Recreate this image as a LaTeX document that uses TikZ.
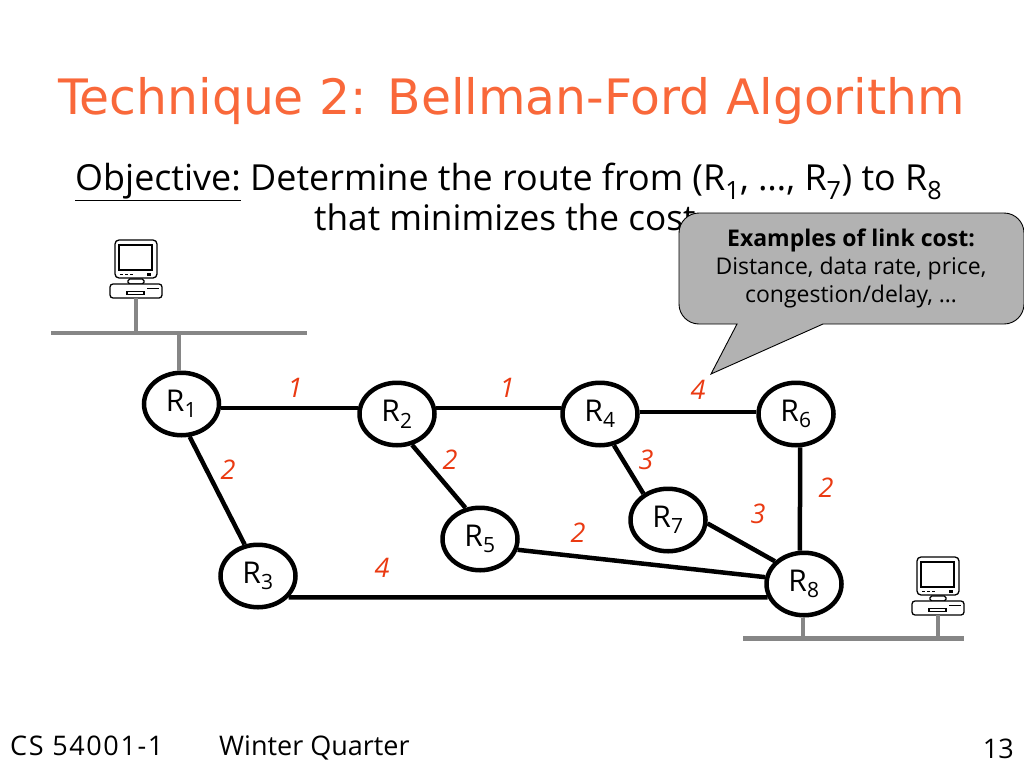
\documentclass[tikz,border=0pt]{standalone}
\usepackage{fontspec}
\usetikzlibrary{shapes.geometric}
\setmainfont{DejaVu Sans}
\newfontfamily\bodyf{Open Sans}
\definecolor{titlec}{HTML}{F9683A}
\definecolor{costc}{HTML}{EA3A12}
\definecolor{netc}{HTML}{868686}
\definecolor{calloutc}{HTML}{B2B2B2}
\newcommand{\fs}[1]{\fontsize{#1}{#1}\selectfont}
\newcommand{\sbs}[1]{\textsubscript{#1}}
\tikzset{
  router/.style={ellipse,draw=black,line width=4.5pt,fill=white,minimum width=75pt,minimum height=62.5pt,inner sep=0pt,font=\bodyf\fs{30}},
  link/.style={line width=4.5pt,black},
  net/.style={line width=4.5pt,netc},
  cost/.style={font=\bodyf\itshape\fs{27},text=costc,inner sep=0pt},
  plain/.style={inner sep=0pt,anchor=base west},
  icon/.style={line width=1.3pt,draw=black,fill=white,rounded corners=1.8pt},
  iconb/.style={line width=1.2pt,draw=black}
}
\newcommand{\compu}[2]{%
  \begin{scope}[shift={(#1,#2)}]
    \draw[icon,rounded corners=4pt] (115,240) rectangle (157,278);
    \draw[iconb] (119,245) rectangle (152,270);
    \draw[iconb,densely dashed] (120,274.5) -- (134,274.5);
    \fill (147,273) rectangle (151,276);
    \draw[icon] (128,279) rectangle (144,284);
    \draw[icon,rounded corners=3pt] (110,284) rectangle (162,298);
    \draw[iconb] (127,291.5) rectangle (144,294.5);
    \draw[iconb] (147,288.5) -- (159,288.5);
  \end{scope}}
\begin{document}
\begin{tikzpicture}[x=1pt,y=-1pt]
\useasboundingbox (0,0) rectangle (1024,768);
% title and objective
\node[plain,text=titlec,font=\fs{48.8}] (title) at (58,114) {Technique 2: Bellman-Ford Algorithm};
\node[plain,font=\bodyf\fs{35.9}] (obj1) at (75,190) {\underline{Objective:} Determine the route from (R\sbs{1}, …, R\sbs{7}) to R\sbs{8}};
\node[plain,font=\bodyf\fs{35.2}] (obj2) at (314,230) {that minimizes the cost};
% networks
\coordinate (n1a) at (51,333); \coordinate (n1b) at (307,333);
\coordinate (n2a) at (743,638.5); \coordinate (n2b) at (964,638.5);
\draw[net] (n1a) -- (n1b);
\draw[net] (n2a) -- (n2b);
% routers
\node[router] (R1) at (181.5,404) {R\sbs{1}};
\node[router] (R2) at (397,414) {R\sbs{2}};
\node[router] (R4) at (600,414) {R\sbs{4}};
\node[router] (R6) at (796,414) {R\sbs{6}};
\node[router] (R3) at (258,576) {R\sbs{3}};
\node[router] (R5) at (480,539) {R\sbs{5}};
\node[router] (R7) at (668,520) {R\sbs{7}};
\node[router] (R8) at (804,584) {R\sbs{8}};
% computers
\compu{0}{0}
\compu{802}{317}
\coordinate (c1) at (136,298); \coordinate (c1n) at (136,333);
\coordinate (r1n) at (179,333);
\coordinate (c2) at (938,615); \coordinate (c2n) at (938,638);
\coordinate (r8n) at (803,638);
\draw[net] (c1) -- (c1n);
\draw[net] (r1n) -- (r1n |- R1.north);
\draw[net] (c2) -- (c2n);
\draw[net] (r8n |- R8.south) -- (r8n);
% links
\draw[link] (R1.-6) -- (R2.171 |- R1.-6);
\draw[link] (R2.9) -- (R4.171);
\draw[link] (R4.3) -- (R6.177);
\draw[link] (R1.-76) -- (R3.113);
\draw[link] (R2.-64) -- (R5.115);
\draw[link] (R4.-66) -- (R7.133);
\draw[link] (R6.-83) -- (R8.97);
\draw[link] (R7.-5) -- (R8.142);
\draw[link] (R5.-16) -- (R8.170);
\draw[link] (R3.-35) -- (R8.-160);
% costs
\node[cost] (c12) at (295,388) {1};
\node[cost] (c24) at (507,388) {1};
\node[cost] (c46) at (698,390) {4};
\node[cost] (c13) at (228,470) {2};
\node[cost] (c25) at (450,460) {2};
\node[cost] (c47) at (646,460) {3};
\node[cost] (c68) at (826,488) {2};
\node[cost] (c78) at (758,514) {3};
\node[cost] (c58) at (578,533) {2};
\node[cost] (c38) at (382,568) {4};
% callout
\draw[fill=calloutc,line width=0.9pt,draw=black]
  (699,213) -- (1004,213) arc[start angle=-90,end angle=0,radius=20] -- (1024,304)
  arc[start angle=0,end angle=90,radius=20] -- (823,324) -- (711,374) -- (737,324) -- (699,324)
  arc[start angle=90,end angle=180,radius=20] -- (679,233) arc[start angle=180,end angle=270,radius=20] -- cycle;
\node[inner sep=0pt,align=center,font=\bodyf\fs{23}] (callout) at (851,268)
  {\textbf{Examples of link cost:}\\[5pt]Distance, data rate, price,\\[5pt]congestion/delay, …};
% footer
\node[plain,font=\bodyf\addfontfeature{LetterSpace=6}\fs{27}] (f1) at (10,755) {CS 54001-1};
\node[plain,font=\bodyf\fs{27}] (f2) at (219,755) {Winter Quarter};
\node[inner sep=0pt,anchor=base east,font=\bodyf\fs{27}] (f3) at (1014,758) {13};
\end{tikzpicture}
\end{document}
